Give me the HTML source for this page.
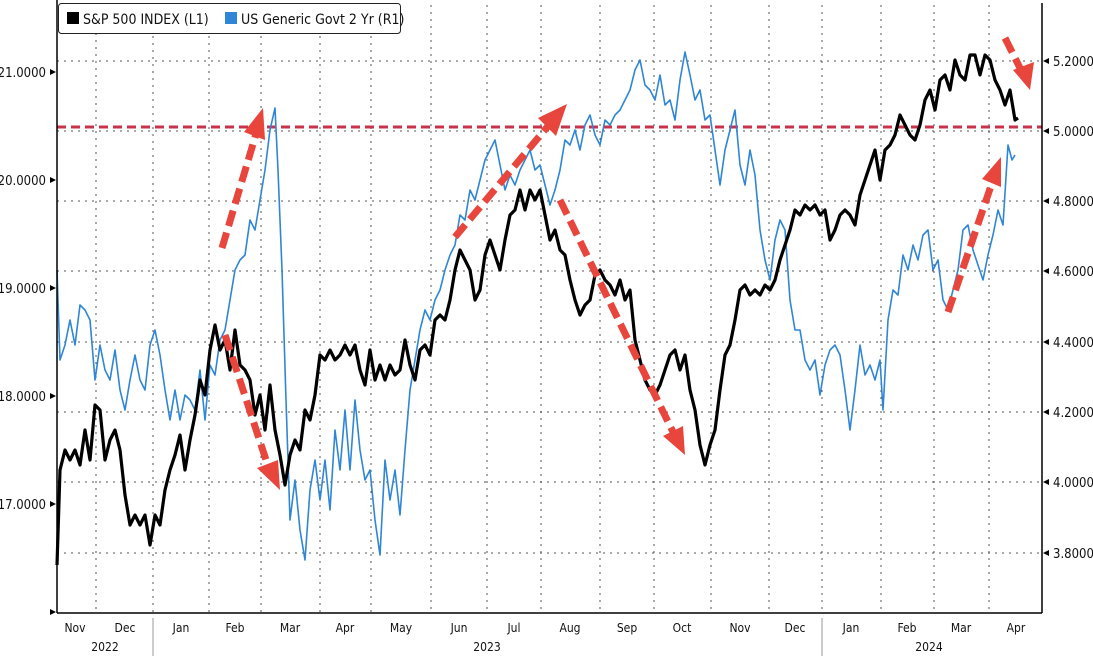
<!DOCTYPE html>
<html><head><meta charset="utf-8"><style>
html,body{margin:0;padding:0;background:#fff;}
svg{display:block;font-family:"DejaVu Sans Condensed","Liberation Sans",sans-serif;}
</style></head><body>
<svg width="1093" height="656" viewBox="0 0 1093 656" xmlns="http://www.w3.org/2000/svg">
<rect width="1093" height="656" fill="#fff"/>
<g stroke="#555" stroke-width="1" stroke-dasharray="2,5">
<line x1="57" x2="1042" y1="61" y2="61"/><line x1="57" x2="1042" y1="131" y2="131"/><line x1="57" x2="1042" y1="201" y2="201"/><line x1="57" x2="1042" y1="271" y2="271"/><line x1="57" x2="1042" y1="342" y2="342"/><line x1="57" x2="1042" y1="412" y2="412"/><line x1="57" x2="1042" y1="482" y2="482"/><line x1="57" x2="1042" y1="553" y2="553"/>
<line x1="96" x2="96" y1="5" y2="613"/><line x1="153" x2="153" y1="36" y2="613"/><line x1="209" x2="209" y1="36" y2="613"/><line x1="261" x2="261" y1="36" y2="613"/><line x1="320" x2="320" y1="36" y2="613"/><line x1="371" x2="371" y1="36" y2="613"/><line x1="431" x2="431" y1="5" y2="613"/><line x1="487" x2="487" y1="5" y2="613"/><line x1="541" x2="541" y1="5" y2="613"/><line x1="600" x2="600" y1="5" y2="613"/><line x1="654" x2="654" y1="5" y2="613"/><line x1="711" x2="711" y1="5" y2="613"/><line x1="769" x2="769" y1="5" y2="613"/><line x1="822" x2="822" y1="5" y2="613"/><line x1="881" x2="881" y1="5" y2="613"/><line x1="934" x2="934" y1="5" y2="613"/><line x1="989" x2="989" y1="5" y2="613"/>
</g>
<line x1="57" x2="1042" y1="127" y2="127" stroke="#c8324a" stroke-width="3" stroke-dasharray="9,5"/>
<polyline fill="none" stroke="#2f86d6" stroke-width="1.6" stroke-linejoin="round" points="57,270 60,360 65,345 70,320 75,345 80,305 85,310 90,320 95,380 100,345 105,370 110,380 115,350 120,390 125,410 130,380 135,355 140,380 145,390 150,345 155,330 160,355 165,390 170,420 175,390 180,420 185,395 190,400 195,410 200,370 205,420 210,365 215,375 220,340 225,330 230,300 235,270 240,260 245,255 250,220 255,230 260,200 265,170 270,130 275,108 278,170 282,270 286,400 290,520 295,480 300,530 305,560 310,490 315,460 320,500 325,460 330,510 335,430 340,470 345,410 350,470 355,400 360,450 365,480 370,470 375,520 380,555 385,460 390,500 395,470 400,515 405,450 410,390 415,360 420,330 425,310 430,320 435,300 440,290 445,270 450,255 455,245 460,215 465,220 470,190 475,200 480,180 485,160 490,150 495,140 500,165 505,190 510,175 515,185 520,170 525,160 530,150 535,170 540,165 545,185 550,205 555,190 560,170 565,140 570,145 575,130 580,150 585,125 590,115 595,135 600,145 605,120 610,125 615,115 620,110 625,100 630,90 635,70 640,60 645,85 650,90 655,100 660,75 665,105 670,100 675,120 680,80 685,52 690,75 695,100 700,90 705,120 710,115 715,150 720,185 725,150 730,130 735,110 740,165 745,185 750,150 755,175 760,230 765,260 770,280 775,240 780,220 785,230 790,300 795,330 800,330 805,360 810,370 815,360 820,395 825,365 830,350 835,345 840,355 845,390 850,430 855,390 860,345 865,375 870,365 875,380 880,360 883,410 888,320 893,290 898,295 903,255 908,270 913,245 918,260 923,235 928,230 933,270 938,260 943,300 948,310 953,290 958,270 963,230 968,225 973,250 978,265 983,280 988,255 993,235 998,210 1003,225 1008,145 1012,160 1015,155"/>
<polyline fill="none" stroke="#000" stroke-width="3.2" stroke-linejoin="round" points="57,565 60,470 65,450 70,460 75,450 80,465 85,430 90,460 95,405 100,410 105,460 110,440 115,430 120,450 125,495 130,525 135,515 140,525 145,515 150,545 155,515 160,525 165,490 170,470 175,455 180,435 185,470 190,440 195,415 200,380 205,395 210,350 215,325 220,350 225,340 230,370 235,330 240,365 245,370 250,380 255,415 260,395 265,430 270,385 275,430 280,455 285,485 290,455 295,440 300,450 305,410 310,420 315,395 320,355 325,360 330,350 335,360 340,355 345,345 350,355 355,345 360,370 365,385 370,350 375,380 380,365 385,380 390,365 395,375 400,370 405,340 410,365 415,380 420,350 425,345 430,355 435,320 440,315 445,320 450,300 455,270 460,250 465,260 470,270 475,300 480,290 485,255 490,240 495,255 500,270 505,240 510,215 515,210 520,190 525,210 530,190 535,200 540,190 545,215 550,240 555,230 560,250 565,255 570,280 575,300 580,315 585,305 590,300 595,275 600,270 605,280 610,285 615,295 620,280 625,300 630,290 635,340 640,360 645,380 650,390 655,395 660,385 665,370 670,355 675,350 680,370 685,355 690,390 695,410 700,445 705,465 710,445 715,430 720,390 725,355 730,345 735,320 740,290 745,285 750,295 755,290 760,295 765,285 770,290 775,280 780,260 785,245 790,230 795,210 800,215 805,205 810,210 815,205 820,215 825,210 830,240 835,230 840,215 845,210 850,215 855,225 860,195 865,180 870,165 875,150 880,180 885,150 890,145 895,135 900,115 905,125 910,135 915,140 920,125 925,100 930,90 935,110 940,80 945,75 950,90 955,60 960,75 965,80 970,55 975,55 980,75 985,55 990,60 995,80 1000,90 1005,105 1010,90 1015,120 1018,118"/>
<g stroke="#e8453c" stroke-width="7" stroke-dasharray="16,7" fill="none" stroke-linecap="butt">
<line x1="222" y1="248" x2="256" y2="134"/>
<line x1="225" y1="335" x2="268" y2="466"/>
<line x1="455" y1="237" x2="548" y2="126"/>
<line x1="560" y1="200" x2="673" y2="432"/>
<line x1="948" y1="312" x2="993" y2="180"/>
<line x1="1005" y1="38" x2="1020" y2="68"/>
</g>
<g fill="#e8453c">
<polygon points="263,108 265,140 244,132"/>
<polygon points="280,490 257,468 278,460"/>
<polygon points="567,104 556,136 538,118"/>
<polygon points="685,455 663,436 683,426"/>
<polygon points="1001,157 1001,187 982,179"/>
<polygon points="1030,90 1013,70 1034,62"/>
</g>
<line x1="57" x2="57" y1="0" y2="613" stroke="#000" stroke-width="1.5"/>
<line x1="57" x2="1042" y1="613" y2="613" stroke="#000" stroke-width="1.5"/>
<line x1="1042" x2="1042" y1="3" y2="613" stroke="#000" stroke-width="1.5"/>
<g font-size="13" fill="#111">
<text x="46" y="77" text-anchor="end">21.0000</text><text x="46" y="185" text-anchor="end">20.0000</text><text x="46" y="293" text-anchor="end">19.0000</text><text x="46" y="401" text-anchor="end">18.0000</text><text x="46" y="509" text-anchor="end">17.0000</text>
<text x="1053" y="66">5.2000</text><text x="1053" y="136">5.0000</text><text x="1053" y="206">4.8000</text><text x="1053" y="276">4.6000</text><text x="1053" y="347">4.4000</text><text x="1053" y="417">4.2000</text><text x="1053" y="487">4.0000</text><text x="1053" y="558">3.8000</text>
</g>
<g fill="#000">
<polygon points="56,72 50,69 50,75"/><polygon points="56,180 50,177 50,183"/><polygon points="56,288 50,285 50,291"/><polygon points="56,396 50,393 50,399"/><polygon points="56,504 50,501 50,507"/><polygon points="56,612 50,609 50,615"/>
<polygon points="1043,61 1049,58 1049,64"/><polygon points="1043,131 1049,128 1049,134"/><polygon points="1043,201 1049,198 1049,204"/><polygon points="1043,271 1049,268 1049,274"/><polygon points="1043,342 1049,339 1049,345"/><polygon points="1043,412 1049,409 1049,415"/><polygon points="1043,482 1049,479 1049,485"/><polygon points="1043,553 1049,550 1049,556"/>
</g>
<g font-size="12" fill="#111" text-anchor="middle">
<text x="75" y="632">Nov</text><text x="125" y="632">Dec</text><text x="181" y="632">Jan</text><text x="235" y="632">Feb</text><text x="290" y="632">Mar</text><text x="345" y="632">Apr</text><text x="401" y="632">May</text><text x="459" y="632">Jun</text><text x="514" y="632">Jul</text><text x="570" y="632">Aug</text><text x="627" y="632">Sep</text><text x="682" y="632">Oct</text><text x="740" y="632">Nov</text><text x="795" y="632">Dec</text><text x="851" y="632">Jan</text><text x="907" y="632">Feb</text><text x="961" y="632">Mar</text><text x="1016" y="632">Apr</text>
<text x="105" y="651">2022</text><text x="487" y="651">2023</text><text x="929" y="651">2024</text>
</g>
<line x1="153" x2="153" y1="618" y2="656" stroke="#999"/>
<line x1="822" x2="822" y1="618" y2="656" stroke="#999"/>
<rect x="58.5" y="3.5" width="342" height="30" rx="3" fill="#fff" stroke="#222"/>
<rect x="67" y="12" width="12" height="12" fill="#000"/>
<rect x="225" y="12" width="12" height="12" fill="#2f86d6"/>
<g font-size="14" fill="#111"><text x="83" y="24">S&amp;P 500 INDEX  (L1)</text><text x="241" y="24">US Generic Govt 2 Yr  (R1)</text></g>
</svg>
</body></html>
